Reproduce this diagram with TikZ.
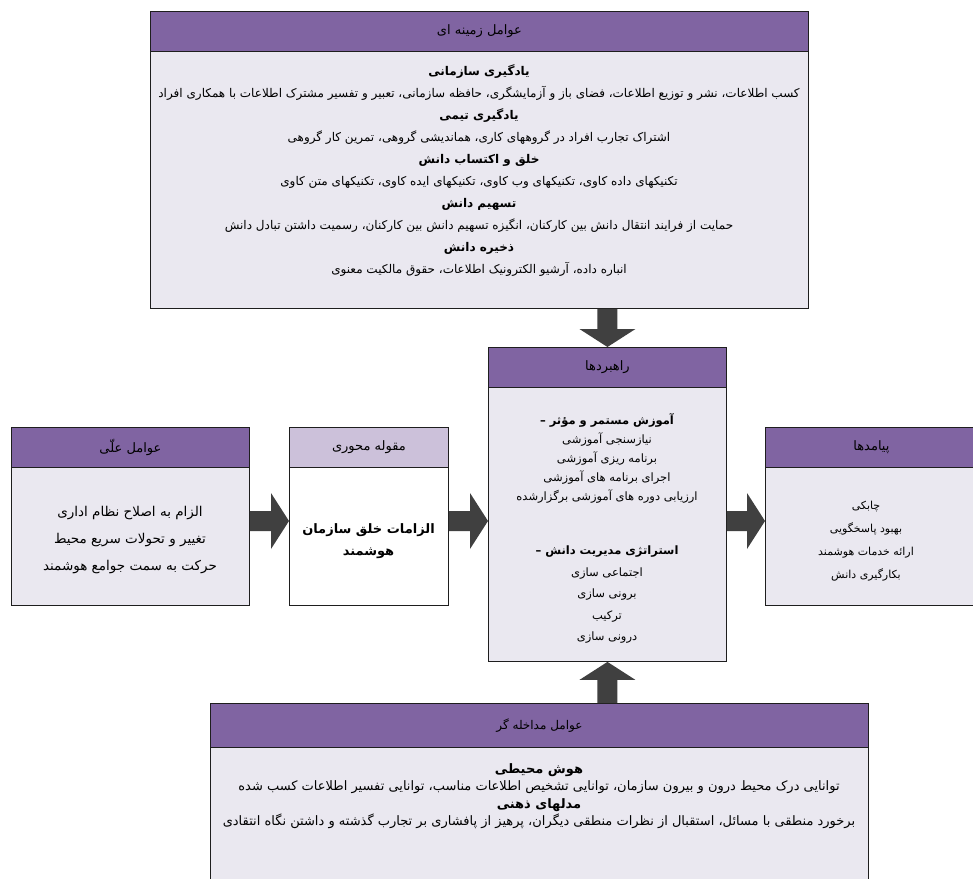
\documentclass[tikz,border=0pt]{standalone}
\usepackage{fontspec}
\usetikzlibrary{calc}
\TeXXeTstate=1
\newfontfamily\fa[Script=Arabic]{DejaVu Sans}
\newcommand\rtl[1]{\beginR #1\endR}
\definecolor{hdr}{RGB}{128,100,162}
\definecolor{hdrlight}{RGB}{204,193,218}
\definecolor{bodyc}{RGB}{234,232,240}
\definecolor{bordc}{RGB}{30,30,30}
\definecolor{arrc}{RGB}{64,64,64}
\newcommand\blockH[3]{\fill[blk] let \p1=(#1.east),\p2=(#2.west),\p3=(0,#3) in
  (\x1,\y3+10pt) -- (\x2-18pt,\y3+10pt) -- (\x2-18pt,\y3+28pt) -- (\x2,\y3) --
  (\x2-18pt,\y3-28pt) -- (\x2-18pt,\y3-10pt) -- (\x1,\y3-10pt) -- cycle;}
\newcommand\blockDown[2]{\fill[blk] let \p1=(#1.south),\p2=(#2.north) in
  (\x2-10pt,\y1) -- (\x2-10pt,\y2+18pt) -- (\x2-28pt,\y2+18pt) -- (\x2,\y2) --
  (\x2+28pt,\y2+18pt) -- (\x2+10pt,\y2+18pt) -- (\x2+10pt,\y1) -- cycle;}
\newcommand\blockUp[2]{\fill[blk] let \p1=(#1.north),\p2=(#2.south) in
  (\x2-10pt,\y1) -- (\x2-10pt,\y2-18pt) -- (\x2-28pt,\y2-18pt) -- (\x2,\y2) --
  (\x2+28pt,\y2-18pt) -- (\x2+10pt,\y2-18pt) -- (\x2+10pt,\y1) -- cycle;}
\begin{document}
\begin{tikzpicture}[x=1pt,y=-1pt,
  box/.style={draw=bordc,line width=0.9pt,fill=bodyc,anchor=north west,inner sep=0pt},
  hbar/.style={draw=bordc,line width=0.9pt,fill=hdr,anchor=north west,inner sep=0pt,
    font=\fa\fontsize{13}{14}\selectfont},
  txt/.style={font=\fa\fontsize{12}{22}\selectfont,align=center,inner sep=0pt},
  sidetxt/.style={font=\fa\fontsize{13.5}{27}\selectfont,align=center,inner sep=0pt},
  midtxt/.style={font=\fa\fontsize{11.5}{19.2}\selectfont,align=center,inner sep=0pt},
  midtxtb/.style={font=\fa\fontsize{11.5}{21.5}\selectfont,align=center,inner sep=0pt},
  blk/.style={fill=arrc}]
\useasboundingbox (0,0) rectangle (973,878);
\clip (0,0) rectangle (973,878);
\fill[white] (0,0) rectangle (973,878);

% top box
\node[box, minimum width=658pt, minimum height=297pt] (top) at (150,11) {};
\node[hbar, minimum width=658pt, minimum height=40pt] (toph) at (top.north west) {\rtl{عوامل زمینه ای}};
\node[txt] (topt) at (479,171) {%
\textbf{\rtl{یادگیری سازمانی}}\\
\rtl{کسب اطلاعات، نشر و توزیع اطلاعات، فضای باز و آزمایشگری، حافظه سازمانی، تعبیر و تفسیر مشترک اطلاعات با همکاری افراد}\\
\textbf{\rtl{یادگیری تیمی}}\\
\rtl{اشتراک تجارب افراد در گروههای کاری، هماندیشی گروهی، تمرین کار گروهی}\\
\textbf{\rtl{خلق و اکتساب دانش}}\\
\rtl{تکنیکهای داده کاوی، تکنیکهای وب کاوی، تکنیکهای ایده کاوی، تکنیکهای متن کاوی}\\
\textbf{\rtl{تسهیم دانش}}\\
\rtl{حمایت از فرایند انتقال دانش بین کارکنان، انگیزه تسهیم دانش بین کارکنان، رسمیت داشتن تبادل دانش}\\
\textbf{\rtl{ذخیره دانش}}\\
\rtl{انباره داده، آرشیو الکترونیک اطلاعات، حقوق مالکیت معنوی}};

% left box
\node[box, minimum width=238pt, minimum height=178pt] (left) at (11,427) {};
\node[hbar, minimum width=238pt, minimum height=40pt] (lefth) at (left.north west) {\rtl{عوامل علّی}};
\node[sidetxt] (leftt) at (130,540) {%
\rtl{الزام به اصلاح نظام اداری}\\
\rtl{تغییر و تحولات سریع محیط}\\
\rtl{حرکت به سمت جوامع هوشمند}};

% middle box
\node[box, fill=white, minimum width=159pt, minimum height=178pt] (mid) at (289,427) {};
\node[hbar, fill=hdrlight, minimum width=159pt, minimum height=40pt] (midh) at (mid.north west) {\rtl{مقوله محوری}};
\node[font=\fa\bfseries\fontsize{13}{22}\selectfont, align=center, inner sep=0pt] (midt) at (368.5,541) {%
\rtl{الزامات خلق سازمان}\\
\rtl{هوشمند}};

% center box
\node[box, minimum width=238pt, minimum height=314pt] (cen) at (488,347) {};
\node[hbar, minimum width=238pt, minimum height=40pt] (cenh) at (cen.north west) {\rtl{راهبردها}};
\node[midtxt, anchor=north] (cent) at (607,413) {%
\textbf{– \rtl{آموزش مستمر و مؤثر}}\\
\rtl{نیازسنجی آموزشی}\\
\rtl{برنامه ریزی آموزشی}\\
\rtl{اجرای برنامه های آموزشی}\\
\rtl{ارزیابی دوره های آموزشی برگزارشده}};
\node[midtxtb, anchor=north] (centb) at (607,546) {%
\textbf{– \rtl{استراتژی مدیریت دانش}}\\
\rtl{اجتماعی سازی}\\
\rtl{برونی سازی}\\
\rtl{ترکیب}\\
\rtl{درونی سازی}};

% right box
\node[box, minimum width=212pt, minimum height=178pt] (right) at (765,427) {};
\node[hbar, minimum width=212pt, minimum height=40pt] (righth) at (right.north west) {\rtl{پیامدها}};
\node[font=\fa\fontsize{11}{23}\selectfont, align=center, inner sep=0pt] (rightt) at (866,541) {%
\rtl{چابکی}\\
\rtl{بهبود پاسخگویی}\\
\rtl{ارائه خدمات هوشمند}\\
\rtl{بکارگیری دانش}};

% bottom box
\node[box, minimum width=658pt, minimum height=220pt] (bot) at (210,703) {};
\node[hbar, minimum width=658pt, minimum height=44pt, font=\fa\fontsize{12}{14}\selectfont] (both) at (bot.north west) {\rtl{عوامل مداخله گر}};
\node[font=\fa\fontsize{13}{17.4}\selectfont, align=center, inner sep=0pt] (bott) at (539,796) {%
\textbf{\rtl{هوش محیطی}}\\
\rtl{توانایی درک محیط درون و بیرون سازمان، توانایی تشخیص اطلاعات مناسب، توانایی تفسیر اطلاعات کسب شده}\\
\textbf{\rtl{مدلهای ذهنی}}\\
\rtl{برخورد منطقی با مسائل، استقبال از نظرات منطقی دیگران، پرهیز از پافشاری بر تجارب گذشته و داشتن نگاه انتقادی}};

% block arrows
\blockH{left}{mid}{521}
\blockH{mid}{cen}{521}
\blockH{cen}{right}{521}
\blockDown{top}{cen}
\blockUp{bot}{cen}
\end{tikzpicture}
\end{document}
